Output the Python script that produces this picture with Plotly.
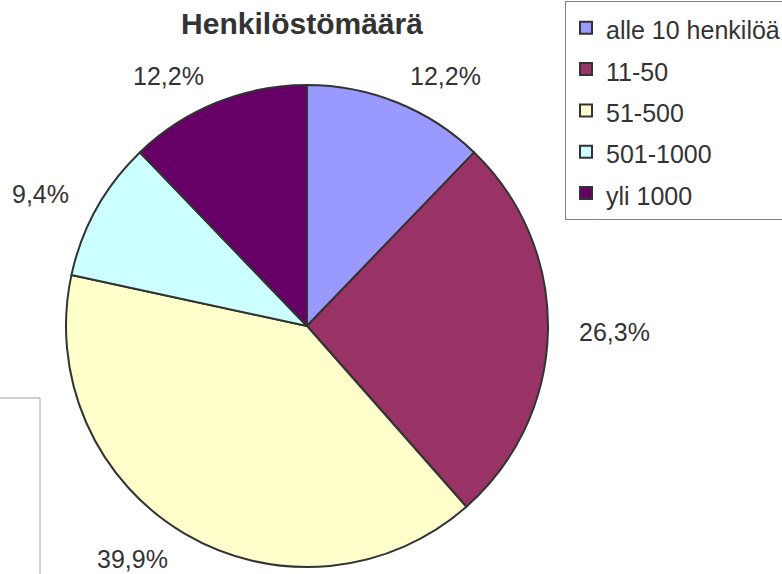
import math
import plotly.graph_objects as go

categories = ["alle 10 henkilöä", "11-50", "51-500", "501-1000", "yli 1000"]
values = [12.2, 26.3, 39.9, 9.4, 12.2]
colors = ["#9999FF", "#993366", "#FFFFCC", "#CCFFFF", "#660066"]
title_text = "Henkilöstömäärä"

W, H = 782, 574
cx, cy, r = 307, 326, 241
label_r = 270

fig = go.Figure()
fig.add_trace(go.Pie(
    labels=['<span style="font-size:25px">' + c + "</span>" for c in categories],
    values=values,
    sort=False,
    direction="clockwise",
    rotation=0,
    textinfo="none",
    hoverinfo="label+percent",
    marker=dict(colors=colors, line=dict(color="#333333", width=2)),
    domain=dict(x=[(cx - r) / W, (cx + r) / W], y=[1 - (cy + r) / H, 1 - (cy - r) / H]),
))

# percentage labels placed outside the pie, positions derived from values
total = sum(values)
cum = 0.0
annotations = []
for v in values:
    mid = (cum + v / 2) / total * 2 * math.pi
    cum += v
    s, c = math.sin(mid), math.cos(mid)
    px = cx + label_r * s
    py = cy - label_r * c
    txt = f"{v / total * 100:.1f}".replace(".", ",") + "%"
    annotations.append(dict(
        x=px / W, y=1 - py / H, xref="paper", yref="paper",
        text=txt, showarrow=False,
        xanchor="left" if s > 0.05 else ("right" if s < -0.05 else "center"),
        yanchor="middle",
        font=dict(family="Liberation Sans, Arial", size=25, color="#333333"),
    ))

fig.update_layout(
    width=W, height=H,
    margin=dict(l=0, r=0, t=0, b=0, autoexpand=False),
    paper_bgcolor="white",
    plot_bgcolor="white",
    title=dict(
        text="<b>" + title_text + "</b>",
        x=302 / W, xanchor="center",
        y=1 - 23 / H, yanchor="middle",
        font=dict(family="Liberation Sans, Arial", size=30, color="#333333"),
    ),
    showlegend=True,
    legend=dict(
        x=565 / W, y=1 - 1 / H, xanchor="left", yanchor="top",
        bordercolor="#808080", borderwidth=1, bgcolor="white",
        font=dict(family="Liberation Sans, Arial", size=29.5, color="#333333"),
    ),
    annotations=annotations,
    shapes=[dict(type="rect", xref="paper", yref="paper",
                 x0=-0.02, x1=40 / W, y0=-0.05, y1=1 - 398 / H,
                 line=dict(color="#a0a0a0", width=1))],
)

fig.write_html("out.html", config={"displayModeBar": False},
               post_script="document.body.style.margin='0px';document.body.style.overflow='hidden';")
